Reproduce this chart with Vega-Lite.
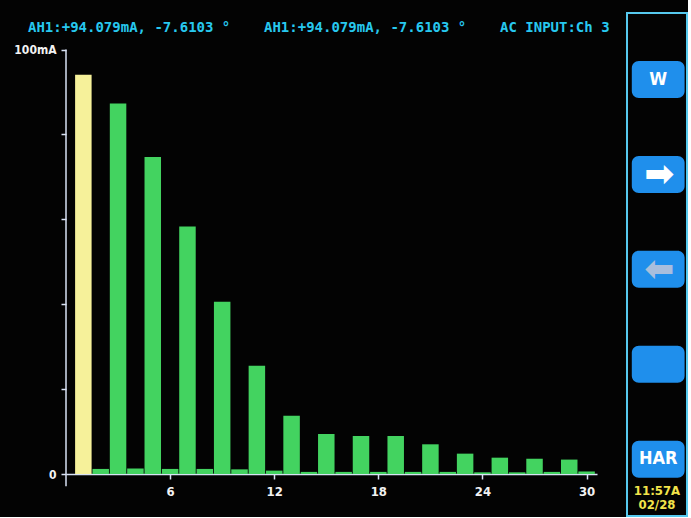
{
  "$schema": "https://vega.github.io/schema/vega-lite/v6.json",
  "background": "#030303",
  "padding": {"left": 13, "top": 12, "right": 0, "bottom": 0},
  "bounds": "flush",
  "spacing": 30,
  "config": {"view": {"stroke": null}},
  "resolve": {"scale": {"color": "independent"}},
  "hconcat": [
    {
      "width": 531,
      "height": 503,
      "title": {
        "text": "AH1:+94.079mA, -7.6103 °\u00a0\u00a0\u00a0\u00a0AH1:+94.079mA, -7.6103 °\u00a0\u00a0\u00a0\u00a0AC INPUT:Ch 3",
        "anchor": "start",
        "frame": "group",
        "dx": -38,
        "offset": -22,
        "color": "#27c8ef",
        "font": "DejaVu Sans Mono",
        "fontSize": 14,
        "fontWeight": "bold"
      },
      "data": {
        "values": [
          {"harmonic": 1, "mA": 94.079, "kind": "fundamental"},
          {"harmonic": 2, "mA": 1.2, "kind": "harmonic"},
          {"harmonic": 3, "mA": 87.3, "kind": "harmonic"},
          {"harmonic": 4, "mA": 1.3, "kind": "harmonic"},
          {"harmonic": 5, "mA": 74.7, "kind": "harmonic"},
          {"harmonic": 6, "mA": 1.2, "kind": "harmonic"},
          {"harmonic": 7, "mA": 58.3, "kind": "harmonic"},
          {"harmonic": 8, "mA": 1.2, "kind": "harmonic"},
          {"harmonic": 9, "mA": 40.6, "kind": "harmonic"},
          {"harmonic": 10, "mA": 1.1, "kind": "harmonic"},
          {"harmonic": 11, "mA": 25.5, "kind": "harmonic"},
          {"harmonic": 12, "mA": 0.8, "kind": "harmonic"},
          {"harmonic": 13, "mA": 13.7, "kind": "harmonic"},
          {"harmonic": 14, "mA": 0.5, "kind": "harmonic"},
          {"harmonic": 15, "mA": 9.4, "kind": "harmonic"},
          {"harmonic": 16, "mA": 0.5, "kind": "harmonic"},
          {"harmonic": 17, "mA": 8.95, "kind": "harmonic"},
          {"harmonic": 18, "mA": 0.5, "kind": "harmonic"},
          {"harmonic": 19, "mA": 8.95, "kind": "harmonic"},
          {"harmonic": 20, "mA": 0.5, "kind": "harmonic"},
          {"harmonic": 21, "mA": 7.0, "kind": "harmonic"},
          {"harmonic": 22, "mA": 0.5, "kind": "harmonic"},
          {"harmonic": 23, "mA": 4.8, "kind": "harmonic"},
          {"harmonic": 24, "mA": 0.4, "kind": "harmonic"},
          {"harmonic": 25, "mA": 3.85, "kind": "harmonic"},
          {"harmonic": 26, "mA": 0.4, "kind": "harmonic"},
          {"harmonic": 27, "mA": 3.6, "kind": "harmonic"},
          {"harmonic": 28, "mA": 0.5, "kind": "harmonic"},
          {"harmonic": 29, "mA": 3.4, "kind": "harmonic"},
          {"harmonic": 30, "mA": 0.6, "kind": "harmonic"}
        ]
      },
      "layer": [
        {
          "data": {"values": [{}]},
          "mark": {"type": "rule", "color": "#d8e2f4", "strokeWidth": 1.5},
          "encoding": {
            "x": {"datum": 0, "type": "quantitative", "scale": {"domain": [0, 30.6], "padding": 0}},
            "y": {"datum": -2.9, "type": "quantitative", "scale": {"domain": [-9.89, 108.6]}},
            "y2": {"datum": 100}
          }
        },
        {
          "mark": {"type": "bar", "width": 16.5},
          "encoding": {
            "x": {
              "field": "harmonic",
              "type": "quantitative",
              "scale": {"domain": [0, 30.6], "nice": false, "zero": false, "padding": 0},
              "axis": {
                "values": [6, 12, 18, 24, 30],
                "offset": -42,
                "title": null,
                "grid": false,
                "domainColor": "#d8e2f4",
                "domainWidth": 1.5,
                "tickColor": "#d8e2f4",
                "tickWidth": 1.5,
                "tickSize": 5,
                "labelColor": "#f2f2f2",
                "labelFont": "DejaVu Sans Condensed",
                "labelFontWeight": "bold",
                "labelFontSize": 13,
                "labelPadding": 6
              }
            },
            "y": {
              "field": "mA",
              "type": "quantitative",
              "scale": {"domain": [-9.89, 108.6], "nice": false, "zero": false},
              "axis": {
                "values": [0, 20, 40, 60, 80, 100],
                "labelExpr": "datum.value == 100 ? '100mA' : (datum.value == 0 ? '0' : '')",
                "domain": false,
                "title": null,
                "grid": false,
                "tickColor": "#d8e2f4",
                "tickWidth": 1.5,
                "tickSize": 5,
                "labelPadding": 5,
                "labelColor": "#f2f2f2",
                "labelFont": "DejaVu Sans Condensed",
                "labelFontWeight": "bold",
                "labelFontSize": 12
              }
            },
            "y2": {"datum": 0},
            "color": {
              "field": "kind",
              "type": "nominal",
              "scale": {"domain": ["fundamental", "harmonic"], "range": ["#f6f19a", "#43d360"]},
              "legend": null
            }
          }
        }
      ]
    },
    {
      "width": 60,
      "height": 503,
      "view": {"stroke": "#56c9ee", "strokeWidth": 2},
      "title": {
        "text": ["11:57A", "02/28"],
        "orient": "bottom",
        "anchor": "middle",
        "offset": -31,
        "color": "#f2e34a",
        "font": "DejaVu Sans Condensed",
        "fontWeight": "bold",
        "fontSize": 13,
        "lineHeight": 14
      },
      "data": {
        "values": [
          {"btn": "W", "label": "W", "kind": "word", "state": "on"},
          {"btn": "next", "label": "➡", "kind": "icon", "state": "on"},
          {"btn": "prev", "label": "⬅", "kind": "icon", "state": "off"},
          {"btn": "blank", "label": "", "kind": "word", "state": "on"},
          {"btn": "HAR", "label": "HAR", "kind": "word", "state": "on"}
        ]
      },
      "encoding": {
        "y": {
          "field": "btn",
          "type": "nominal",
          "sort": null,
          "scale": {"type": "band", "domain": ["W", "next", "prev", "blank", "HAR"], "paddingInner": 0.61, "paddingOuter": 0.455, "align": 0.556},
          "axis": null
        }
      },
      "layer": [
        {
          "mark": {"type": "bar", "cornerRadius": 7, "color": "#1f8fec"},
          "encoding": {
            "x": {"datum": 0.08, "type": "quantitative", "scale": {"domain": [0, 1], "padding": 0}, "axis": null},
            "x2": {"datum": 0.96}
          }
        },
        {
          "transform": [{"filter": "datum.kind == 'word'"}],
          "mark": {"type": "text", "font": "DejaVu Sans Condensed", "fontWeight": "bold", "fontSize": 18, "baseline": "middle", "align": "center"},
          "encoding": {
            "x": {"datum": 0.52, "type": "quantitative"},
            "text": {"field": "label"},
            "color": {
              "field": "state",
              "type": "nominal",
              "scale": {"domain": ["on", "off"], "range": ["#ffffff", "#a8bedd"]},
              "legend": null
            }
          }
        },
        {
          "transform": [{"filter": "datum.kind == 'icon'"}],
          "mark": {"type": "text", "font": "DejaVu Sans", "fontWeight": "bold", "fontSize": 36, "baseline": "middle", "align": "center", "dy": 1},
          "encoding": {
            "x": {"datum": 0.54, "type": "quantitative"},
            "text": {"field": "label"},
            "color": {
              "field": "state",
              "type": "nominal",
              "scale": {"domain": ["on", "off"], "range": ["#ffffff", "#a8bedd"]},
              "legend": null
            }
          }
        }
      ]
    }
  ]
}
